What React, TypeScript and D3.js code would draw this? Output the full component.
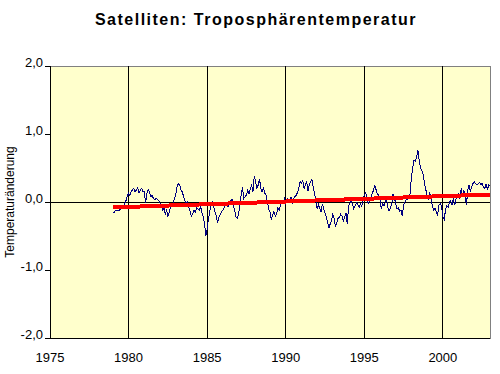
import React, { useEffect, useRef } from 'react';
import * as d3 from 'd3';

// monthly anomalies, first value = Jan 1979, one row per year
const startYear = 1979;
const anomalies = [
  -0.16, -0.15, -0.12, -0.13, -0.13, -0.12, -0.10, -0.07, -0.08, -0.03, 0.02, 0.08, // 1979
  0.13, 0.10, 0.15, 0.18, 0.20, 0.15, 0.18, 0.21, 0.13, 0.18, 0.20, 0.15, // 1980
  0.15, -0.02, 0.12, 0.19, 0.15, 0.08, 0.10, 0.05, 0.03, 0.06, 0.04, 0.02, // 1981
  -0.02, -0.06, -0.12, -0.09, -0.18, -0.12, -0.21, -0.15, -0.08, -0.05, -0.02, 0.05, // 1982
  0.10, 0.22, 0.27, 0.25, 0.18, 0.15, 0.08, 0.02, -0.02, 0.00, -0.08, -0.14, // 1983
  -0.21, -0.17, -0.12, -0.15, -0.08, -0.10, -0.12, -0.07, -0.15, -0.22, -0.32, -0.50, // 1984
  -0.40, -0.25, -0.14, -0.05, 0.02, -0.06, -0.15, -0.21, -0.30, -0.22, -0.19, -0.14, // 1985
  -0.12, -0.08, -0.04, -0.02, -0.07, -0.03, 0.02, 0.04, -0.05, -0.12, -0.22, -0.24, // 1986
  -0.18, -0.04, 0.10, 0.22, 0.05, 0.08, 0.10, 0.17, 0.12, 0.20, 0.25, 0.15, // 1987
  0.38, 0.30, 0.20, 0.25, 0.34, 0.20, 0.15, 0.20, 0.13, 0.10, 0.00, -0.10, // 1988
  -0.15, -0.26, -0.19, -0.14, -0.21, -0.17, -0.09, -0.12, -0.04, 0.00, -0.02, 0.05, // 1989
  -0.02, 0.05, 0.03, 0.02, 0.07, -0.02, 0.04, 0.08, 0.10, 0.14, 0.20, 0.30, // 1990
  0.28, 0.32, 0.20, 0.25, 0.30, 0.16, 0.25, 0.30, 0.34, 0.22, 0.12, 0.05, // 1991
  -0.10, -0.04, -0.10, -0.14, -0.03, -0.10, -0.16, -0.22, -0.30, -0.38, -0.32, -0.27, // 1992
  -0.18, -0.24, -0.36, -0.30, -0.24, -0.22, -0.18, -0.21, -0.28, -0.22, -0.16, -0.32, // 1993
  -0.06, -0.02, 0.02, -0.04, -0.10, -0.06, -0.01, -0.04, -0.08, -0.03, -0.06, 0.02, // 1994
  0.10, 0.14, 0.06, -0.02, 0.02, 0.06, 0.12, 0.17, 0.24, 0.18, 0.12, 0.10, // 1995
  0.03, -0.10, -0.02, -0.06, 0.00, 0.05, -0.08, -0.13, -0.08, -0.02, 0.12, 0.06, // 1996
  -0.02, -0.10, -0.08, -0.14, -0.12, -0.21, -0.05, 0.00, 0.03, 0.03, 0.06, 0.12, // 1997
  0.37, 0.50, 0.62, 0.60, 0.66, 0.76, 0.60, 0.50, 0.46, 0.40, 0.28, 0.18, // 1998
  0.10, 0.05, 0.14, 0.04, -0.05, -0.12, -0.09, -0.15, -0.19, -0.05, -0.02, -0.06, // 1999
  -0.22, -0.26, -0.12, -0.05, -0.08, 0.00, 0.02, -0.04, 0.05, -0.05, 0.04, 0.08, // 2000
  0.12, 0.05, 0.20, 0.10, 0.17, 0.12, -0.05, 0.18, 0.25, 0.15, 0.22, 0.27, // 2001
  0.30, 0.27, 0.25, 0.27, 0.29, 0.26, 0.27, 0.22, 0.20, 0.27, 0.18, 0.25, // 2002
  0.24, // 2003
];

// linear trend (red)
const trendYears = [1979, 2003];
const trendValues = [-0.08, 0.11];

const xTicks = [1975, 1980, 1985, 1990, 1995, 2000];
const yTicks = [-2, -1, 0, 1, 2];
const chartTitle = 'Satelliten: Troposphärentemperatur';
const yTitle = 'Temperaturänderung';

export default function App() {
  const ref = useRef<SVGSVGElement>(null);
  const width = 500;
  const height = 374;
  const margin = { top: 66, right: 10, bottom: 36, left: 50 };

  useEffect(() => {
    const svg = d3.select(ref.current);
    svg.selectAll('*').remove();

    const x = d3.scaleLinear().domain([1975, 2003]).range([margin.left, width - margin.right]);
    const y = d3.scaleLinear().domain([-2, 2]).range([height - margin.bottom, margin.top]);
    const fmt = (d: number) => d.toFixed(1).replace('.', ',');
    const font = 'Arial, "Liberation Sans", sans-serif';

    // background
    svg.append('rect').attr('width', width).attr('height', height).attr('fill', '#fff');

    // plot area
    svg.append('rect')
      .attr('x', x(1975)).attr('y', y(2))
      .attr('width', x(2003) - x(1975)).attr('height', y(-2) - y(2))
      .attr('fill', '#FFFFCC')
      .attr('stroke', '#808080')
      .attr('shape-rendering', 'crispEdges');

    // vertical gridlines
    svg.append('g')
      .selectAll('line')
      .data(xTicks.slice(1))
      .join('line')
      .attr('x1', d => x(d)).attr('x2', d => x(d))
      .attr('y1', y(2)).attr('y2', y(-2))
      .attr('stroke', '#000')
      .attr('shape-rendering', 'crispEdges');

    // zero line
    svg.append('line')
      .attr('x1', x(1975)).attr('x2', x(2003))
      .attr('y1', y(0)).attr('y2', y(0))
      .attr('stroke', '#000')
      .attr('shape-rendering', 'crispEdges');

    // left + bottom axis lines
    svg.append('line')
      .attr('x1', x(1975)).attr('x2', x(1975))
      .attr('y1', y(2)).attr('y2', y(-2))
      .attr('stroke', '#000').attr('shape-rendering', 'crispEdges');
    svg.append('line')
      .attr('x1', x(1975)).attr('x2', x(2003))
      .attr('y1', y(-2)).attr('y2', y(-2))
      .attr('stroke', '#000').attr('shape-rendering', 'crispEdges');

    // y ticks + labels
    const yAxis = svg.append('g');
    yAxis.selectAll('line')
      .data(yTicks)
      .join('line')
      .attr('x1', x(1975) - 5).attr('x2', x(1975))
      .attr('y1', d => y(d)).attr('y2', d => y(d))
      .attr('stroke', '#000').attr('shape-rendering', 'crispEdges');
    yAxis.selectAll('text')
      .data(yTicks)
      .join('text')
      .attr('x', x(1975) - 7)
      .attr('y', d => y(d) + 1)
      .attr('text-anchor', 'end')
      .attr('font-family', font)
      .attr('font-size', 13)
      .attr('fill', '#000')
      .text(d => fmt(d));

    // x labels
    svg.append('g')
      .selectAll('text')
      .data(xTicks)
      .join('text')
      .attr('x', d => x(d))
      .attr('y', y(-2) + 24)
      .attr('text-anchor', 'middle')
      .attr('font-family', font)
      .attr('font-size', 13)
      .attr('fill', '#000')
      .text(d => d);

    // monthly series
    const line = d3.line<number>()
      .x((d, i) => x(startYear + i / 12))
      .y(d => y(d));
    svg.append('path')
      .datum(anomalies)
      .attr('d', line)
      .attr('fill', 'none')
      .attr('stroke', '#000080')
      .attr('stroke-width', 1)
      .attr('shape-rendering', 'crispEdges');

    // trend
    const trendLine = d3.line<number>()
      .x((d, i) => x(trendYears[i]))
      .y(d => y(d));
    svg.append('path')
      .datum(trendValues)
      .attr('d', trendLine)
      .attr('fill', 'none')
      .attr('stroke', '#FF0000')
      .attr('stroke-width', 4)
      .attr('shape-rendering', 'crispEdges');

    // titles
    svg.append('text')
      .attr('x', 256).attr('y', 25)
      .attr('text-anchor', 'middle')
      .attr('font-family', font)
      .attr('font-weight', 'bold')
      .attr('font-size', 16)
      .attr('letter-spacing', 1.5)
      .attr('fill', '#000')
      .text(chartTitle);

    svg.append('text')
      .attr('transform', `translate(14,${y(0)}) rotate(-90)`)
      .attr('text-anchor', 'middle')
      .attr('font-family', font)
      .attr('font-size', 12)
      .attr('fill', '#000')
      .text(yTitle);
  }, []);

  return (
    <svg
      ref={ref}
      width={width}
      height={height}
      style={{ position: 'absolute', left: 0, top: 0, display: 'block' }}
    />
  );
}
